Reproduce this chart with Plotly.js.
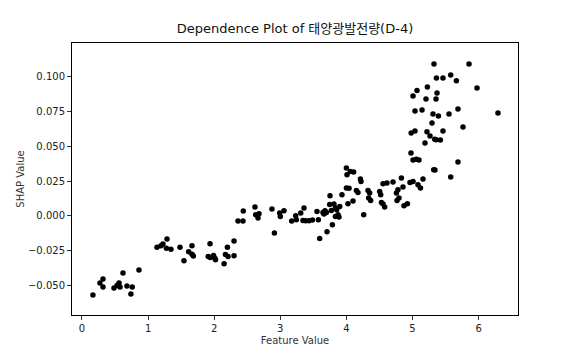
<!DOCTYPE html>
<html>
<head>
<meta charset="utf-8">
<script src="https://cdn.plot.ly/plotly-3.0.1.min.js"></script>
<style>html,body{margin:0;padding:0;background:#fff;}#chart{width:576px;height:360px;}</style>
</head>
<body>
<div id="chart"></div>
<script>
const featureValue = [
 0.166,0.272,0.318,0.318,0.484,0.53,0.56,0.575,0.62,0.68,0.74,0.76,0.862,
 1.135,1.195,1.225,1.286,1.277,1.346,1.483,1.543,1.614,1.664,1.664,1.685,
 1.937,1.91,1.94,1.99,2.01,2.02,2.15,2.2,2.17,2.21,2.3,2.3,2.36,2.436,2.44,
 2.617,2.628,2.663,2.678,2.874,2.911,2.991,3.0,3.056,3.172,3.233,3.243,3.309,
 3.359,3.343,3.384,3.434,3.486,3.555,3.576,3.596,3.646,3.676,3.661,3.697,3.707,
 3.752,3.747,3.773,3.788,3.812,3.834,3.834,3.853,3.873,3.888,3.899,3.933,
 4.0,4.009,4.06,4.11,4.0,4.04,4.024,4.1,4.151,4.175,4.212,4.221,4.262,4.327,
 4.337,4.352,4.367,4.503,4.519,4.53,4.554,4.579,4.554,4.614,4.705,4.757,4.78,
 4.856,4.766,4.796,4.871,4.923,4.832,4.962,5.008,5.083,5.12,5.159,5.321,
 5.325,5.855,5.362,5.461,5.578,5.664,5.976,5.225,5.068,5.008,5.371,5.204,5.356,
 5.038,5.144,5.31,5.392,5.552,5.688,6.293,5.295,5.764,4.98,5.038,5.219,5.265,
 5.461,5.336,5.357,5.422,5.189,4.977,5.008,5.059,5.098,5.688,5.34,5.578
];
const shapValue = [
 -0.0571,-0.0485,-0.0456,-0.0514,-0.0521,-0.0502,-0.0485,-0.0514,-0.0413,-0.0506,-0.0564,-0.0514,-0.0391,
 -0.0227,-0.0216,-0.0204,-0.0168,-0.0234,-0.0241,-0.0227,-0.0324,-0.0259,-0.0216,-0.0277,-0.029,
 -0.0202,-0.0293,-0.030,-0.0286,-0.0306,-0.0317,-0.0346,-0.0227,-0.028,-0.0293,-0.0182,-0.0288,-0.0038,-0.0038,0.0034,
 0.0063,0.0007,-0.0017,0.0014,0.0048,-0.0125,0.0019,-0.0005,0.0036,-0.0038,0.0,-0.0029,0.0019,
 0.0055,-0.0034,-0.0036,-0.0036,-0.0031,0.0031,-0.0029,-0.0164,0.0024,0.0036,0.0012,0.0024,-0.0115,
 0.0144,0.0081,0.0038,-0.0065,0.0084,0.0055,-0.0005,0.0043,0.0007,-0.0009,0.0067,0.0151,
 0.0344,0.0295,0.0319,0.0315,0.02,0.0197,0.0086,0.0106,0.0182,0.0168,0.0264,0.0247,0.0007,0.0182,
 0.0128,0.0164,0.011,0.0175,0.0151,0.0096,0.0084,0.0063,0.0231,0.0236,0.0243,0.0164,0.0187,
 0.0207,0.011,0.0128,0.0072,0.0086,0.0272,0.024,0.0247,0.0223,0.02,0.0264,0.0331,
 0.1093,0.1093,0.0992,0.0992,0.1014,0.0973,0.092,0.0927,0.0901,0.0862,0.0884,0.0841,0.0841,
 0.0754,0.0762,0.0733,0.0718,0.0733,0.0769,0.074,0.0668,0.0639,0.0596,0.061,0.0605,0.0574,
 0.061,0.055,0.0548,0.0545,0.0524,0.0452,0.0401,0.0406,0.0401,0.0387,0.0329,0.0279
];
const xTickVals = [0,1,2,3,4,5,6];
const yTickVals = [-0.05,-0.025,0,0.025,0.05,0.075,0.1];
const titleText = 'Dependence Plot of 태양광발전량(D-4)';
const xTitle = 'Feature Value';
const yTitle = 'SHAP Value';

const fontFam = '"DejaVu Sans", "Noto Sans CJK KR", sans-serif';

Plotly.newPlot('chart', [{
  type: 'scatter', mode: 'markers',
  x: featureValue, y: shapValue,
  marker: {color: '#000000', size: 5.5, line: {width: 0}},
  hoverinfo: 'skip'
}], {
  width: 576, height: 360,
  paper_bgcolor: '#ffffff', plot_bgcolor: '#ffffff',
  margin: {l: 72, r: 58, t: 43, b: 45, pad: 0},
  showlegend: false,
  font: {family: fontFam, color: '#222222', size: 10},
  title: {text: titleText, x: 0.5, xref: 'paper', y: 0.92, yref: 'container', yanchor: 'middle',
          font: {family: fontFam, size: 13, color: '#111111'}},
  xaxis: {
    range: [-0.151, 6.596], tickvals: xTickVals, ticktext: xTickVals.map(String),
    showgrid: false, zeroline: false, showline: true, mirror: true,
    linecolor: '#000000', linewidth: 1, ticks: 'outside', ticklen: 4, tickwidth: 0.8, tickcolor: '#000000',
    tickfont: {family: fontFam, size: 10, color: '#222222'},
    title: {text: xTitle, standoff: 3, font: {family: fontFam, size: 10, color: '#333333'}}
  },
  yaxis: {
    range: [-0.0715, 0.1244], tickvals: yTickVals, tickformat: '.3f',
    showgrid: false, zeroline: false, showline: true, mirror: true,
    linecolor: '#000000', linewidth: 1, ticks: 'outside', ticklen: 4, tickwidth: 0.8, tickcolor: '#000000',
    tickfont: {family: fontFam, size: 10, color: '#222222'},
    title: {text: yTitle, standoff: 1, font: {family: fontFam, size: 10, color: '#333333'}}
  }
}, {staticPlot: true, displayModeBar: false});
</script>
</body>
</html>
